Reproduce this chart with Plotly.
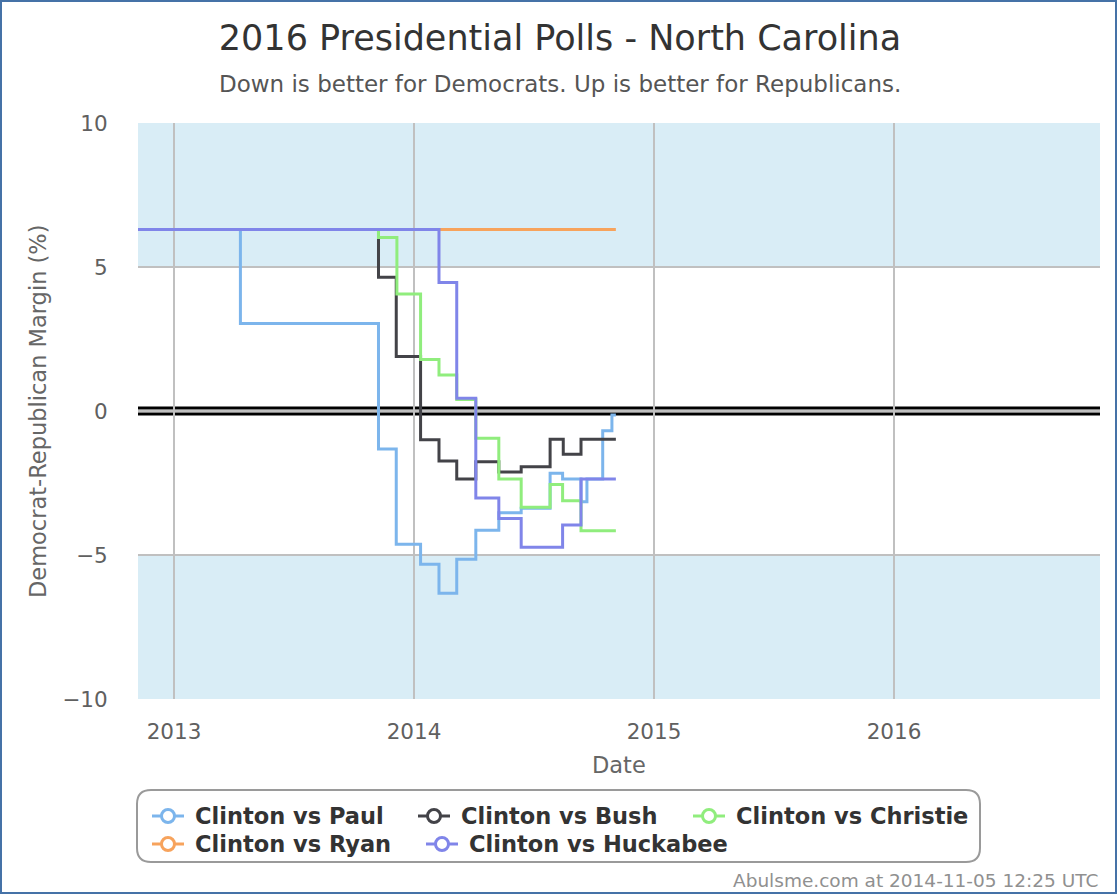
import plotly.graph_objects as go

# ---------------- data ----------------
series_names = ["Clinton vs Paul", "Clinton vs Bush", "Clinton vs Christie",
                "Clinton vs Ryan", "Clinton vs Huckabee"]
series_colors = ["#7cb5ec", "#434348", "#90ed7d", "#f7a35c", "#8085e9"]

paul_dates = ["2012-11-01", "2013-04-12", "2013-11-08", "2013-12-05", "2014-01-11",
              "2014-02-08", "2014-03-07", "2014-04-05", "2014-05-10", "2014-06-13",
              "2014-07-27", "2014-08-15", "2014-09-12", "2014-09-21", "2014-10-15",
              "2014-10-29", "2014-11-04"]
paul_vals = [6.3, 3.04, -1.32, -4.63, -5.32, -6.33, -5.15, -4.14, -3.53, -3.38,
             -2.16, -2.36, -3.15, -2.36, -0.69, -0.14, -0.14]

bush_dates = ["2012-11-01", "2013-11-08", "2013-12-05", "2014-01-11", "2014-02-08",
              "2014-03-07", "2014-04-05", "2014-05-10", "2014-06-13", "2014-07-27",
              "2014-08-16", "2014-09-12", "2014-11-04"]
bush_vals = [6.3, 4.64, 1.89, -1.0, -1.74, -2.36, -1.76, -2.12, -1.94, -0.98,
             -1.5, -0.98, -0.98]

christie_dates = ["2012-11-01", "2013-11-08", "2013-12-06", "2014-01-11", "2014-02-08",
                  "2014-03-07", "2014-04-05", "2014-05-10", "2014-06-13", "2014-07-27",
                  "2014-08-15", "2014-09-12", "2014-11-04"]
christie_vals = [6.3, 6.02, 4.06, 1.79, 1.25, 0.4, -0.95, -2.36, -3.34, -2.55,
                 -3.12, -4.16, -4.16]

ryan_dates = ["2012-11-01", "2014-11-04"]
ryan_vals = [6.3, 6.3]

huckabee_dates = ["2012-11-01", "2014-02-08", "2014-03-07", "2014-04-05", "2014-05-10",
                  "2014-06-13", "2014-08-15", "2014-09-12", "2014-11-04"]
huckabee_vals = [6.3, 4.46, 0.44, -3.02, -3.73, -4.73, -3.96, -2.36, -2.36]

x_tick_vals = ["2013-01-01", "2014-01-01", "2015-01-01", "2016-01-01"]
x_tick_text = ["2013", "2014", "2015", "2016"]
y_tick_vals = [-10, -5, 0, 5, 10]
y_tick_text = ["\u221210", "\u22125", "0", "5", "10"]

all_dates = [paul_dates, bush_dates, christie_dates, ryan_dates, huckabee_dates]
all_vals = [paul_vals, bush_vals, christie_vals, ryan_vals, huckabee_vals]

# ---------------- layout geometry ----------------
W, H = 1120, 896
L, R, T, B = 138, 20, 123, 197
PW, PH = W - L - R, H - T - B


def px(xp):
    return (xp - L) / PW


def py(yp):
    return (H - B - yp) / PH


FONT = "DejaVu Sans"

fig = go.Figure()

for name, color, xs, ys in zip(series_names, series_colors, all_dates, all_vals):
    fig.add_trace(go.Scatter(x=xs, y=ys, mode="lines", name=name,
                             line=dict(color=color, width=3, shape="hv"),
                             showlegend=False, hoverinfo="skip"))

shapes = []
# plot bands
for y0, y1 in [(5, 10), (-10, -5)]:
    shapes.append(dict(type="rect", xref="paper", yref="y", x0=0, x1=1, y0=y0, y1=y1,
                       fillcolor="#d9edf6", line=dict(width=0), layer="below"))
# double zero line
for yv in [0.1, -0.1]:
    shapes.append(dict(type="line", xref="paper", yref="y", x0=0, x1=1, y0=yv, y1=yv,
                       line=dict(color="black", width=3), layer="between"))


# rounded legend box
def rounded(x0, y0, x1, y1, r):
    pts = []
    pts.append("M %f,%f" % (px(x0 + r), py(y0)))
    pts.append("L %f,%f" % (px(x1 - r), py(y0)))
    pts.append("Q %f,%f %f,%f" % (px(x1), py(y0), px(x1), py(y0 + r)))
    pts.append("L %f,%f" % (px(x1), py(y1 - r)))
    pts.append("Q %f,%f %f,%f" % (px(x1), py(y1), px(x1 - r), py(y1)))
    pts.append("L %f,%f" % (px(x0 + r), py(y1)))
    pts.append("Q %f,%f %f,%f" % (px(x0), py(y1), px(x0), py(y1 - r)))
    pts.append("L %f,%f" % (px(x0), py(y0 + r)))
    pts.append("Q %f,%f %f,%f" % (px(x0), py(y0), px(x0 + r), py(y0)))
    pts.append("Z")
    return " ".join(pts)


shapes.append(dict(type="path", xref="paper", yref="paper", path=rounded(137, 790, 980, 862, 14),
                   line=dict(color="#9a9a9a", width=2), fillcolor="rgba(0,0,0,0)", layer="above"))
# outer border
shapes.append(dict(type="rect", xref="paper", yref="paper", x0=px(1), x1=px(1116), y0=py(1), y1=py(893),
                   line=dict(color="#4572a7", width=2), fillcolor="rgba(0,0,0,0)", layer="above"))

annotations = [
    dict(text="Down is better for Democrats. Up is better for Republicans.", xref="paper", yref="paper",
         x=px(560), y=py(84), xanchor="center", yanchor="middle", showarrow=False,
         font=dict(family=FONT, size=23, color="#555555")),
    dict(text="Date", xref="paper", yref="paper", x=px(619), y=py(765), xanchor="center", yanchor="middle",
         showarrow=False, font=dict(family=FONT, size=22.5, color="#666666")),
    dict(text="Democrat-Republican Margin (%)", xref="paper", yref="paper", x=px(38), y=py(411),
         xanchor="center", yanchor="middle", textangle=-90, showarrow=False,
         font=dict(family=FONT, size=22.5, color="#666666")),
    dict(text="Abulsme.com at 2014-11-05 12:25 UTC", xref="paper", yref="paper", x=px(1100), y=py(880),
         xanchor="right", yanchor="middle", showarrow=False,
         font=dict(family=FONT, size=18.5, color="#909090")),
]

# custom legend (symbol line + hollow circle + bold name)
legend_text_x = [195, 461, 736, 195, 469]
legend_row_y = [816, 816, 816, 844, 844]
for name, color, tx, ry in zip(series_names, series_colors, legend_text_x, legend_row_y):
    cx = tx - 27
    shapes.append(dict(type="line", xref="paper", yref="paper", x0=px(cx - 16), x1=px(cx + 16),
                       y0=py(ry), y1=py(ry), line=dict(color=color, width=3), layer="above"))
    shapes.append(dict(type="circle", xref="paper", yref="paper", x0=px(cx - 6.5), x1=px(cx + 6.5),
                       y0=py(ry + 6.5), y1=py(ry - 6.5), fillcolor="white",
                       line=dict(color=color, width=3), layer="above"))
    annotations.append(dict(text="<b>%s</b>" % name, xref="paper", yref="paper", x=px(tx - 2), y=py(ry),
                            xanchor="left", yanchor="middle", showarrow=False,
                            font=dict(family=FONT, size=22.5, color="#333333")))

fig.update_layout(
    width=W, height=H,
    margin=dict(l=L, r=R, t=T, b=B),
    paper_bgcolor="white", plot_bgcolor="white",
    title=dict(text="2016 Presidential Polls - North Carolina", x=0.5, xanchor="center",
               y=1 - 38 / H, yanchor="middle", font=dict(family=FONT, size=35, color="#333333")),
    shapes=shapes, annotations=annotations,
    showlegend=False,
    xaxis=dict(type="date", range=["2012-11-07 06:00", "2016-11-09 07:00"],
               tickvals=x_tick_vals, ticktext=x_tick_text, showgrid=True, gridcolor="#c0c0c0",
               gridwidth=2, zeroline=False, showline=False, ticks="outside", ticklen=13,
               tickcolor="rgba(0,0,0,0)", tickfont=dict(family=FONT, size=21.5, color="#606060")),
    yaxis=dict(range=[-10, 10], tickvals=y_tick_vals, ticktext=y_tick_text,
               showgrid=True, gridcolor="#c0c0c0", gridwidth=2, zeroline=False, showline=False,
               ticks="outside", ticklen=25, tickcolor="rgba(0,0,0,0)",
               tickfont=dict(family=FONT, size=21.5, color="#606060")),
)

fig.write_html("out.html")
